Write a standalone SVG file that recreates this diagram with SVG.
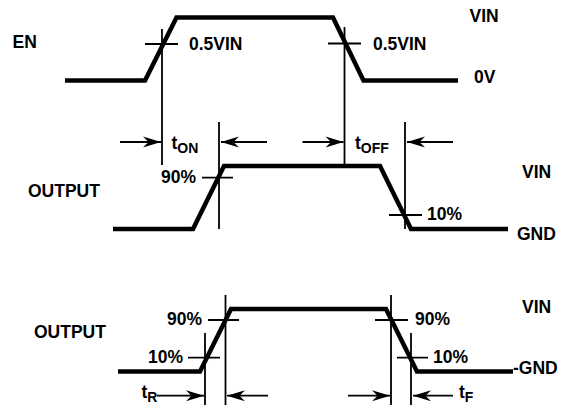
<svg xmlns="http://www.w3.org/2000/svg" width="569" height="405" viewBox="0 0 569 405">
<style>
text{font-family:"Liberation Sans",Arial,sans-serif;font-weight:bold;font-size:17.5px;fill:#000}
.sub{font-size:14px}
.wave{fill:none;stroke:#000;stroke-width:4.5;stroke-linejoin:miter;stroke-linecap:butt}
.thin{fill:none;stroke:#000;stroke-width:1.8}
.arr{fill:none;stroke:#000;stroke-width:1.8;marker-end:url(#ah)}
</style>
<defs>
<marker id="ah" markerUnits="userSpaceOnUse" markerWidth="20" markerHeight="14" viewBox="-19 -7 20 14" refX="0" refY="0" orient="auto">
<path d="M0,0 L-18,-5.5 L-12.5,0 L-18,5.5 Z" fill="#000"/>
</marker>
</defs>
<rect width="569" height="405" fill="#fff"/>
<g id="en-signal">
<path class="wave" d="M65,80.5 L145,80.5 L176.5,17.5 L333,17.5 L363.5,80.5 L458,80.5"/>
<text x="12.5" y="48.3">EN</text>
<text x="469.5" y="21.7">VIN</text>
<text x="474" y="82.7">0V</text>
<path class="thin" d="M145,44 H178 M328,43.5 H361"/>
<text x="189" y="50">0.5VIN</text>
<text x="373" y="50">0.5VIN</text>
</g>
<g id="output1">
<path class="wave" d="M113,229 L193,229 L224,166 L380,166 L411,229 L508,229"/>
<text x="28" y="196.7">OUTPUT</text>
<text x="522" y="178">VIN</text>
<text x="517" y="240">GND</text>
<path class="thin" d="M202,177.7 H233 M389,215 H422"/>
<text x="161" y="183">90%</text>
<text x="427" y="220">10%</text>
</g>
<g id="output2">
<path class="wave" d="M118,371.5 L200,371.5 L231,309 L386,309 L417,371.5 L513,371.5"/>
<text x="34" y="338">OUTPUT</text>
<text x="522" y="313">VIN</text>
<text x="513" y="374">-GND</text>
<path class="thin" d="M208,320 H239 M188,357.7 H220 M375,320 H408 M397,357.7 H428"/>
<text x="167" y="325">90%</text>
<text x="148" y="362.7">10%</text>
<text x="415" y="325">90%</text>
<text x="433" y="362.7">10%</text>
</g>
<g id="connectors">
<path class="thin" d="M162,29 V165 M219,122 V229 M344.5,27 V164 M405,122 V229 M205,333 V405 M225.5,295 V405 M391,295 V405 M411,333 V405"/>
<line class="arr" x1="120" y1="142" x2="161" y2="142"/>
<line class="arr" x1="267" y1="142" x2="221" y2="142"/>
<line class="arr" x1="302.5" y1="142" x2="343.5" y2="142"/>
<line class="arr" x1="453" y1="142" x2="407" y2="142"/>
<line class="arr" x1="157" y1="395.7" x2="204" y2="395.7"/>
<line class="arr" x1="268" y1="395.7" x2="227" y2="395.7"/>
<line class="arr" x1="348" y1="395.7" x2="390" y2="395.7"/>
<line class="arr" x1="453" y1="395.7" x2="413" y2="395.7"/>
</g>
<g id="labels">
<text x="171.5" y="149.3">t<tspan class="sub" dy="3.5">ON</tspan></text>
<text x="355" y="149.3">t<tspan class="sub" dy="3.5">OFF</tspan></text>
<text x="141.5" y="398">t<tspan class="sub" dy="3.5">R</tspan></text>
<text x="459" y="398">t<tspan class="sub" dy="3.5">F</tspan></text>
</g>
</svg>
